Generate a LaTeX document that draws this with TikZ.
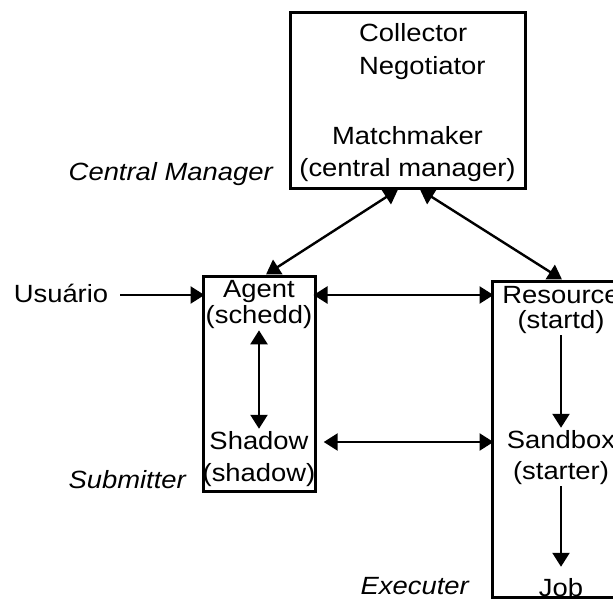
\documentclass[tikz,border=0pt]{standalone}
\usepackage{fontspec}
\setmainfont{Liberation Sans}[FakeStretch=1.1]
\usetikzlibrary{arrows.meta, positioning, calc}

\begin{document}
\begin{tikzpicture}[x=1bp,y=-1bp,font=\fontsize{25}{30}\selectfont,
    box/.style={draw,line width=3bp,inner sep=0pt},
    txt/.style={anchor=base,inner sep=2bp},
    role/.style={anchor=base east,inner sep=0pt,font=\fontsize{25}{30}\selectfont\itshape},
    link/.style={line width=2.4bp,-{Triangle[length=14bp,width=17bp]}},
    both/.style={line width=2.4bp,{Triangle[length=14bp,width=17bp]}-{Triangle[length=14bp,width=17bp]}}]
  \useasboundingbox (0,0) rectangle (613,599);
  % boxes
  \node[box,minimum width=235bp,minimum height=175bp] (cmgr) at (407.5,100.5) {};
  \node[box,minimum width=112bp,minimum height=215bp] (subm) at (259,383.5) {};
  \node[box,minimum width=140bp,minimum height=316bp] (exec) at (562,439) {};
  % central manager
  \node[txt,anchor=base west] (collector) at (357,42) {Collector};
  \node[txt,anchor=base west] (negotiator) at (357,75) {Negotiator};
  \node[txt] (matchmaker) at (407.5,145) {Matchmaker};
  \node[txt] (cmname) at (407.5,177) {(central manager)};
  % submitter
  \node[txt] (agent) at (259,297) {Agent};
  \node[txt] (schedd) at (259,323) {(schedd)};
  \node[txt] (shadow) at (259,449) {Shadow};
  \node[txt] (shadowd) at (259,481) {(shadow)};
  % executer
  \node[txt] (resource) at (561,303) {Resource};
  \node[txt] (startd) at (561,328) {(startd)};
  \node[txt] (sandbox) at (561,448) {Sandbox};
  \node[txt] (starter) at (561,479) {(starter)};
  \node[txt] (job) at (561,596) {Job};
  % labels
  \node[txt] (usuario) at (61,302) {Usuário};
  \node[role] (lblcm) at (273,181) {Central Manager};
  \node[role] (lblsub) at (186,488) {Submitter};
  \node[role] (lblexe) at (469,594) {Executer};
  \coordinate (ulevel) at (0,295);
  \coordinate (slevel) at (0,442);
  % connectors
  \draw[both] ([xshift=-9.5bp]cmgr.south) -- ([xshift=7bp]subm.north);
  \draw[both] ([xshift=12.5bp]cmgr.south) -- (exec.north);
  \draw[link] ([xshift=10bp]usuario.east |- ulevel) -- ([xshift=3bp]subm.west |- ulevel);
  \draw[both] ([xshift=-3bp]subm.east |- ulevel) -- ([xshift=3bp]exec.west |- ulevel);
  \draw[both] (schedd) -- (shadow);
  \draw[both] ([xshift=13bp]shadow.east |- slevel) -- ([xshift=3bp]exec.west |- slevel);
  \draw[link] (startd) -- (sandbox);
  \draw[link] (starter) -- ([yshift=9bp]job.north);
\end{tikzpicture}
\end{document}
